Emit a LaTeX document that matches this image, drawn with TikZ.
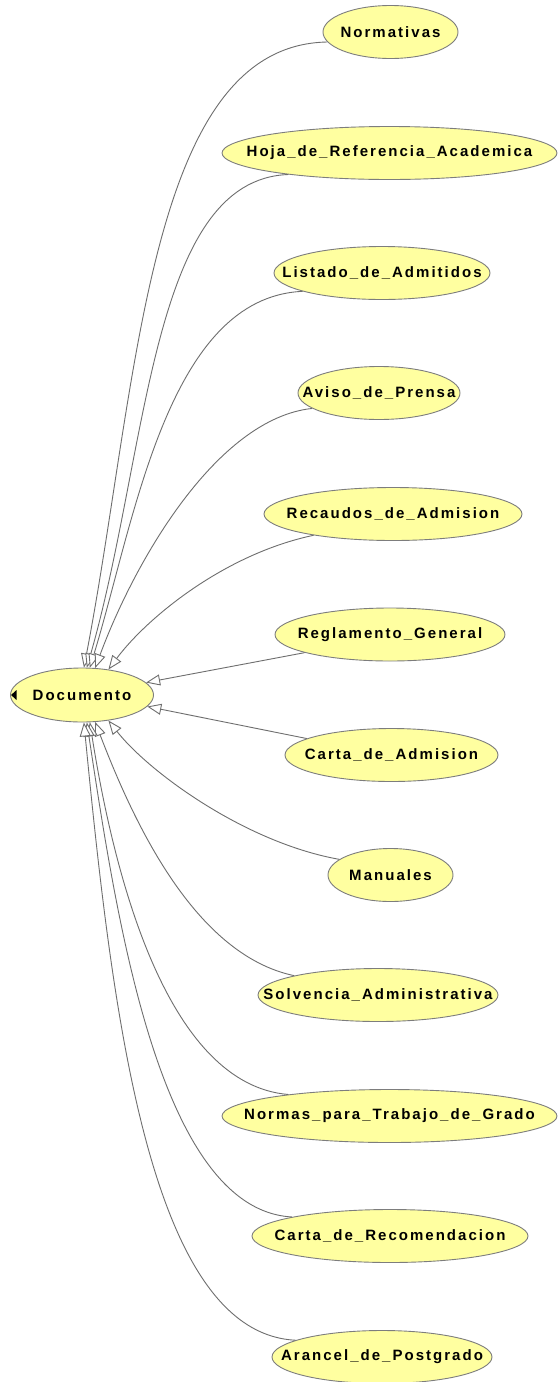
\documentclass[tikz,border=0pt]{standalone}
\usepackage{fontspec}
\setmainfont{Liberation Sans}[LetterSpace=13.5]
\usetikzlibrary{arrows.meta,shapes.geometric}
\definecolor{nodefill}{RGB}{255,255,160}
\definecolor{nodeline}{RGB}{125,125,125}
\definecolor{edgeline}{RGB}{110,110,110}
\newcommand{\lbl}[1]{\makebox[0pt][c]{#1}}
\begin{document}
\begin{tikzpicture}[x=1pt,y=-1pt,
  cls/.style={ellipse, draw=nodeline, fill=nodefill, line width=0.9pt,
    minimum height=53pt, inner sep=0pt, text=black,
    font=\fontsize{15}{18}\selectfont\bfseries},
  isa/.style={draw=edgeline, line width=0.9pt,
    -{Triangle[length=14pt,width=11pt,fill=white]}}]
% canvas
\fill[white] (0,0) rectangle (558,1382);
\path[use as bounding box] (0,0) rectangle (558,1382);

% root class
\node[cls, minimum width=143pt, minimum height=54pt] (doc) at (82,695) {\lbl{Documento}};
\fill[black] ([xshift=1pt]doc.west) -- ++(5.5,-5) -- ++(0,10) -- cycle;

% subclasses
\node[cls, minimum width=135pt] (nor) at (390.5,32)  {\lbl{Normativas}};
\node[cls, minimum width=335pt] (hoj) at (389.5,153) {\lbl{Hoja\_de\_Referencia\_Academica}};
\node[cls, minimum width=216pt] (lis) at (382,273)   {\lbl{Listado\_de\_Admitidos}};
\node[cls, minimum width=162pt] (avi) at (379,393)   {\lbl{Aviso\_de\_Prensa}};
\node[cls, minimum width=258pt] (rec) at (393,514)   {\lbl{Recaudos\_de\_Admision}};
\node[cls, minimum width=230pt] (reg) at (390,634.5) {\lbl{Reglamento\_General}};
\node[cls, minimum width=213pt] (cad) at (391.5,755) {\lbl{Carta\_de\_Admision}};
\node[cls, minimum width=125pt] (man) at (390.5,875) {\lbl{Manuales}};
\node[cls, minimum width=240pt] (sol) at (378,995)   {\lbl{Solvencia\_Administrativa}};
\node[cls, minimum width=335pt] (nrm) at (389.5,1116) {\lbl{Normas\_para\_Trabajo\_de\_Grado}};
\node[cls, minimum width=276pt] (crc) at (390,1236)  {\lbl{Carta\_de\_Recomendacion}};
\node[cls, minimum width=220pt] (ara) at (382,1357)  {\lbl{Arancel\_de\_Postgrado}};

% is-a connectors
\draw[isa] (nor.189) .. controls +(-180,3)  and +(55,-287) .. (doc.86);
\draw[isa] (hoj.192) .. controls +(-138,5)  and +(62,-217) .. (doc.80);
\draw[isa] (lis.193) .. controls +(-135,6)  and +(45,-147) .. (doc.74);
\draw[isa] (avi.193) .. controls +(-95,10)  and +(40,-108) .. (doc.64);
\draw[isa] (rec.195) .. controls +(-90,19)  and +(38,-51)  .. (doc.44);
\draw[isa] (reg.192) -- (doc.11);
\draw[isa] (cad.169) -- (doc.350);
\draw[isa] (man.163) .. controls +(-95,-17) and +(40,51)   .. (doc.316);
\draw[isa] (sol.167) .. controls +(-100,-21) and +(38,99)  .. (doc.296);
\draw[isa] (nrm.168) .. controls +(-120,-10) and +(25,158) .. (doc.286);
\draw[isa] (crc.169) .. controls +(-132,-7) and +(30,198)  .. (doc.280);
\draw[isa] (ara.169) .. controls +(-145,-7) and +(29,298)  .. (doc.274);
\end{tikzpicture}
\end{document}
